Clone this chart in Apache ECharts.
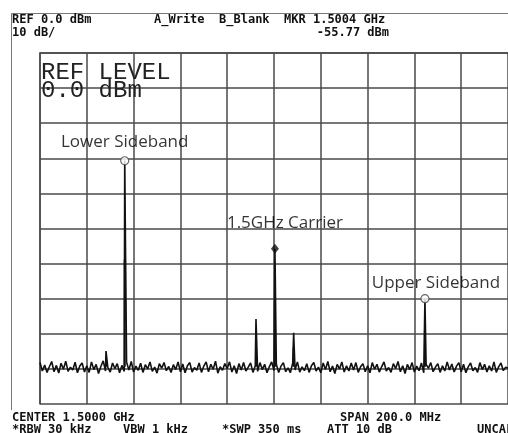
<!DOCTYPE html>
<html><head><meta charset="utf-8">
<script src="https://cdn.jsdelivr.net/npm/echarts@6/dist/echarts.min.js"></script>
<style>html,body{margin:0;padding:0;background:#fff}#c{width:508px;height:433px}</style>
</head><body><div id="c"></div>
<script>
// Spectrum analyzer trace (MHz, dBm)
const startFreq = 1400;
const stepFreq = 1;
const noiseLevels = [
-88.2,-90.6,-88.9,-91.0,-89.4,-87.9,-90.8,-89.0,-91.2,-88.4,-90.1,-87.8,-90.7,-89.5,-90.3,-88.1,-91.1,-89.2,-88.3,-90.9,
-89.1,-91.0,-88.0,-90.2,-88.7,-91.3,-89.3,-87.7,-90.6,-89.6,-90.9,-88.3,-89.9,-88.5,-91.1,-89.0,-90.7,-88.1,-90.3,-87.9,
-90.9,-89.2,-90.4,-88.4,-91.0,-88.8,-90.0,-88.0,-90.7,-89.5,-91.2,-88.5,-89.8,-88.2,-90.5,-89.3,-91.0,-88.8,-90.2,-88.0,
-90.8,-88.6,-91.1,-89.1,-88.2,-90.9,-89.6,-90.4,-88.3,-91.0,-89.2,-88.0,-90.8,-88.7,-90.1,-87.8,-91.2,-89.4,-90.4,-88.5,
-89.9,-88.0,-90.9,-89.1,-91.3,-88.5,-90.3,-88.2,-90.6,-89.5,-88.3,-91.0,-89.1,-90.7,-88.2,-90.2,-88.7,-91.1,-89.4,-88.0,
-90.5,-88.7,-91.0,-89.2,-88.2,-90.8,-89.7,-91.1,-88.3,-90.3,-88.0,-90.9,-89.4,-90.5,-88.5,-91.0,-89.1,-88.2,-90.6,-89.5,
-91.1,-88.3,-90.2,-87.9,-90.8,-89.2,-91.3,-88.7,-90.0,-88.0,-90.9,-89.1,-90.6,-88.3,-90.3,-88.2,-91.0,-89.4,-88.5,-90.8,
-89.1,-91.1,-88.2,-90.1,-88.7,-90.9,-89.4,-88.0,-90.6,-89.6,-91.0,-88.5,-89.9,-87.9,-90.8,-89.1,-91.3,-88.7,-90.2,-88.2,
-90.9,-89.2,-90.5,-88.3,-91.1,-88.7,-89.8,-88.2,-90.8,-89.5,-88.5,-91.0,-89.1,-90.6,-88.0,-90.3,-88.6,-90.9,-89.2,-88.2,
-90.8,-88.7,-91.1,-89.4,-88.3,-90.5,-89.6,-91.0,-88.2,-90.2,-88.7,-90.9,-89.1,-90.6,-88.0,-91.0,-89.4,-88.3,-90.5,-89.5,
-89.8
];
const spikeFreqs  = [1428.2, 1436.2, 1492.3, 1500.4, 1508.4, 1564.5];
const spikePeaks  = [-84.9, -30.7, -75.8, -55.77, -79.7, -70.0];
const spikeHold   = [-86.5, -58.9, -82.2, -71.1, -84.0, -79.0];
const floorLevel = -89.4;
const markerNames  = ['Lower Sideband', '1.5GHz Carrier', 'Upper Sideband'];
const markerFreqs  = [1436.2, 1500.4, 1564.5];
const markerLevels = [-30.7, -55.77, -70.0];
const xMin = 1400, xMax = 1600, xStep = 20;
const yMin = -100, yMax = 0, yStep = 10;

const trace = noiseLevels.map((v, i) => [startFreq + i * stepFreq, v]);
spikeFreqs.forEach((f, i) => trace.push([f, spikePeaks[i]]));
trace.sort((a, b) => a[0] - b[0]);

const hold = [];
spikeFreqs.forEach((f, i) => { hold.push([f, floorLevel]); hold.push([f, spikeHold[i]]); hold.push([f, '-']); });

const labelCfg = [
  {distance: 6, offset: [0, 0]},
  {distance: 12, offset: [10, 0]},
  {distance: 2, offset: [11, 0]}
];
const markers = markerNames.map((n, i) => ({
  name: n,
  value: [markerFreqs[i], markerLevels[i]],
  symbol: i === 1 ? 'diamond' : 'circle',
  symbolSize: i === 1 ? [8, 10] : 8,
  itemStyle: i === 1 ? {color: '#111', borderWidth: 0} : {color: '#fff', borderColor: '#444', borderWidth: 1.2},
  label: {show: true, position: 'top', distance: labelCfg[i].distance, offset: labelCfg[i].offset}
}));

const mono = 'DejaVu Sans Mono';
const hdr = {fill: '#111', font: 'bold 12px "' + mono + '"', textVerticalAlign: 'middle'};
function t(x, y, s, extra) { return {type: 'text', x: x, y: y, style: Object.assign({text: s}, hdr, extra || {}), z: 10}; }

const chart = echarts.init(document.getElementById('c'), null, {renderer: 'canvas'});
chart.setOption({
  animation: false,
  backgroundColor: '#fff',
  grid: {left: 40, top: 53, width: 471, height: 351, containLabel: false},
  xAxis: {
    type: 'value', min: xMin, max: xMax, interval: xStep,
    axisLine: {show: true, lineStyle: {color: '#4a4a4a', width: 1.5}},
    axisTick: {show: false}, axisLabel: {show: false},
    splitLine: {show: true, lineStyle: {color: '#4a4a4a', width: 1.5}}
  },
  yAxis: {
    type: 'value', min: yMin, max: yMax, interval: yStep,
    axisLine: {show: true, lineStyle: {color: '#4a4a4a', width: 1.5}},
    axisTick: {show: false}, axisLabel: {show: false},
    splitLine: {show: true, lineStyle: {color: '#4a4a4a', width: 1.5}}
  },
  series: [
    {type: 'line', data: trace, symbol: 'none', lineStyle: {color: '#111', width: 1.6}, z: 3},
    {type: 'line', data: hold, symbol: 'none', connectNulls: false, lineStyle: {color: '#111', width: 2}, z: 4},
    {type: 'line', data: [[markerFreqs[0], floorLevel], [markerFreqs[0], markerLevels[0]]], symbol: 'none', lineStyle: {color: '#666', width: 1}, z: 2},
    {type: 'scatter', data: markers, z: 6,
     label: {formatter: '{b}', color: '#000', fontFamily: 'Open Sans', fontSize: 17}}
  ],
  graphic: [
    {type: 'line', shape: {x1: 11.5, y1: 13.5, x2: 508, y2: 13.5}, style: {stroke: '#777', lineWidth: 1}},
    {type: 'line', shape: {x1: 11.5, y1: 13.5, x2: 11.5, y2: 410}, style: {stroke: '#777', lineWidth: 1}},
    t(12, 20, 'REF 0.0 dBm'),
    t(154, 20, 'A_Write  B_Blank  MKR 1.5004 GHz'),
    t(12, 33, '10 dB/'),
    t(389, 33, '-55.77 dBm', {textAlign: 'right'}),
    t(12, 418, 'CENTER 1.5000 GHz'),
    t(340, 418, 'SPAN 200.0 MHz'),
    t(12, 430, '*RBW 30 kHz'),
    t(123, 430, 'VBW 1 kHz'),
    t(222, 430, '*SWP 350 ms'),
    t(327, 430, 'ATT 10 dB'),
    t(477, 430, 'UNCAL'),
    {type: 'text', x: 41, y: 73, z: 10, style: {text: 'REF LEVEL', fill: '#222', font: '24px "Liberation Mono"', textVerticalAlign: 'middle'}},
    {type: 'text', x: 41, y: 91, z: 10, style: {text: '0.0 dBm', fill: '#222', font: '24px "Liberation Mono"', textVerticalAlign: 'middle'}}
  ]
});
</script></body></html>
